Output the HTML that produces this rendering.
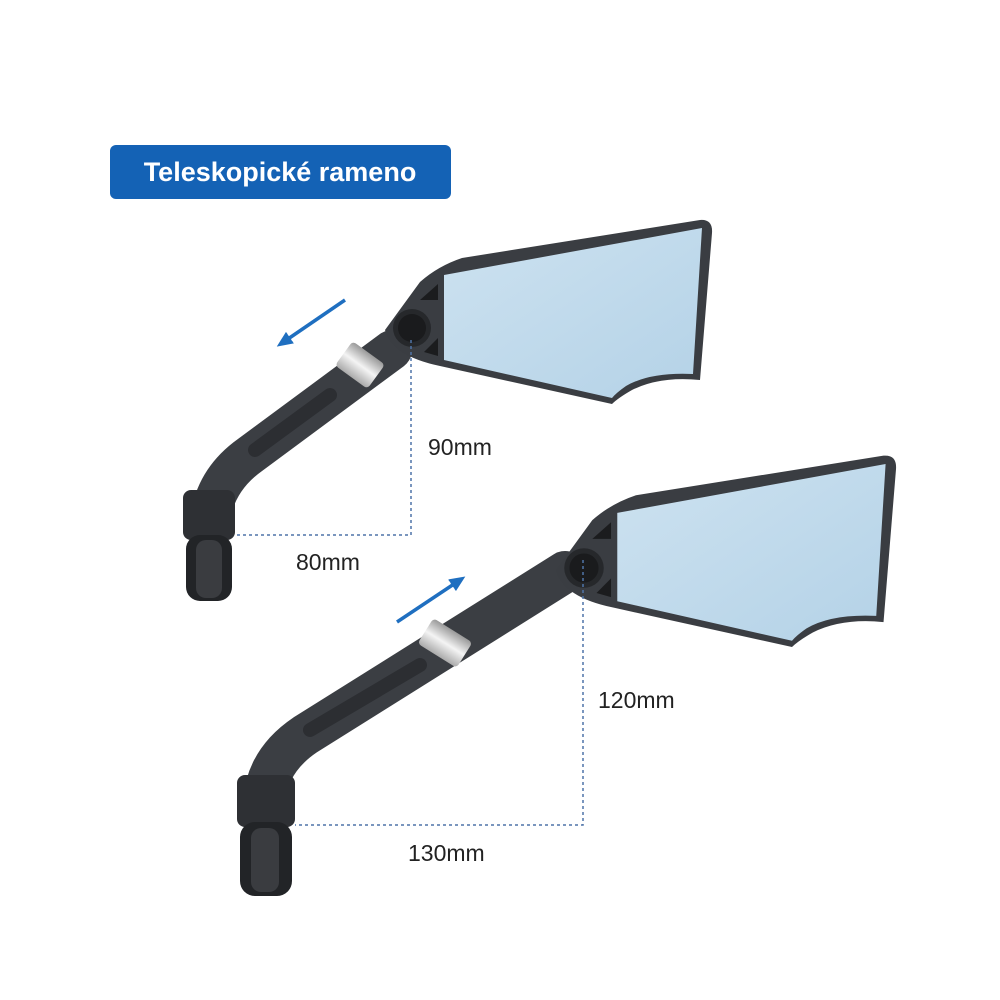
<!DOCTYPE html>
<html><head><meta charset="utf-8"><style>
html,body{margin:0;padding:0;background:#fff;}
svg{display:block}
text{font-family:"Liberation Sans",sans-serif;}
</style></head><body>
<svg width="1000" height="1000" viewBox="0 0 1000 1000" xmlns="http://www.w3.org/2000/svg">
<defs>
<linearGradient id="glass" x1="0" y1="0" x2="1" y2="1">
<stop offset="0" stop-color="#cde2f0"/><stop offset="1" stop-color="#b4d2e7"/>
</linearGradient>
<linearGradient id="silver" x1="0" y1="0" x2="1" y2="0">
<stop offset="0" stop-color="#aaa"/><stop offset="0.5" stop-color="#f4f4f4"/><stop offset="1" stop-color="#999"/>
</linearGradient>
<marker id="ah" markerWidth="16" markerHeight="14" refX="6" refY="7" orient="auto" markerUnits="userSpaceOnUse">
<path d="M0,0 L16,7 L0,14 Z" fill="#1f6fc0"/>
</marker>
<g id="mirror">
<path d="M385,330 L420,282 Q438,266 462,258 L700,220 Q713,219 712,233 L700,380 Q660,376 632,390 Q618,398 612,404 L440,366 Q392,356 385,330 Z" fill="#3a3d42"/>
<path d="M444,275 L702,228 L693,374 Q650,372 626,386 Q616,393 612,398 L444,360 Z" fill="url(#glass)"/>
<path d="M420,300 L438,284 L438,300 Z" fill="#1b1c1e"/>
<path d="M424,352 L438,338 L438,356 Z" fill="#1b1c1e"/>
<circle cx="412" cy="328" r="19" fill="#26282b"/>
<circle cx="412" cy="328" r="14" fill="#1a1b1d"/>
</g>
</defs>

<rect x="110" y="145" width="341" height="54" rx="6" fill="#1462b5"/>
<text x="280" y="181" text-anchor="middle" font-size="27" font-weight="bold" fill="#fff">Teleskopické rameno</text>

<path d="M392,350 L250,455 Q215,480 210,520" stroke="#3b3e43" stroke-width="40" fill="none" stroke-linecap="round"/>
<path d="M330,395 L255,450" stroke="#2c2e32" stroke-width="14" fill="none" stroke-linecap="round"/>
<rect x="345" y="345" width="30" height="40" rx="4" fill="url(#silver)" transform="rotate(-54 360 365)"/>
<rect x="183" y="490" width="52" height="50" rx="8" fill="#2e3034"/>
<rect x="186" y="535" width="46" height="66" rx="14" fill="#222427"/>
<rect x="196" y="540" width="26" height="58" rx="10" fill="#3a3c40"/>
<use href="#mirror"/>

<path d="M565,572 L305,735 Q268,760 264,800" stroke="#3b3e43" stroke-width="42" fill="none" stroke-linecap="round"/>
<path d="M420,665 L310,730" stroke="#2c2e32" stroke-width="14" fill="none" stroke-linecap="round"/>
<rect x="430" y="620" width="30" height="46" rx="4" fill="url(#silver)" transform="rotate(-58 445 643)"/>
<rect x="237" y="775" width="58" height="52" rx="8" fill="#2e3034"/>
<rect x="240" y="822" width="52" height="74" rx="15" fill="#222427"/>
<rect x="251" y="828" width="28" height="64" rx="10" fill="#3a3c40"/>
<g transform="translate(172,240) translate(412,328) scale(1.04) translate(-412,-328)"><use href="#mirror"/></g>

<g stroke="#4f74a8" stroke-width="1.5" stroke-dasharray="3,3" fill="none">
<path d="M411,340 L411,535 L235,535"/>
<path d="M583,560 L583,825 L295,825"/>
</g>

<line x1="345" y1="300" x2="285" y2="341" stroke="#1f6fc0" stroke-width="3.5" marker-end="url(#ah)"/>
<line x1="397" y1="622" x2="457" y2="582" stroke="#1f6fc0" stroke-width="3.5" marker-end="url(#ah)"/>

<g font-size="23" fill="#222">
<text x="428" y="455">90mm</text>
<text x="296" y="570">80mm</text>
<text x="598" y="708">120mm</text>
<text x="408" y="861">130mm</text>
</g>
</svg>
</body></html>
